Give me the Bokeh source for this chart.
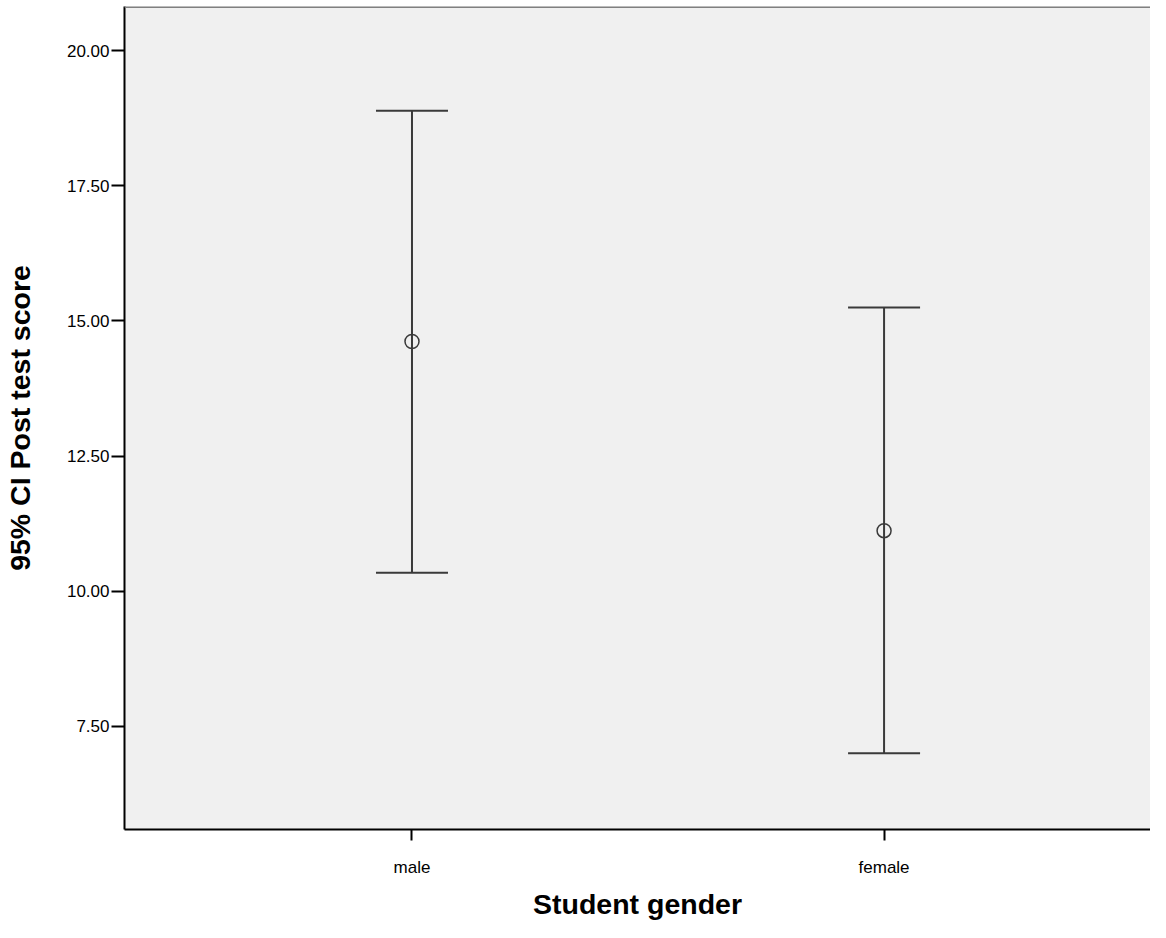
from bokeh.plotting import figure
from bokeh.models import ColumnDataSource, Whisker, TeeHead, FixedTicker, Range1d, Span
from bokeh.embed import file_html
from bokeh.resources import INLINE

# data
categories = ["male", "female"]
positions = [1, 2]
means = [14.62, 11.12]
upper = [18.89, 15.25]
lower = [10.34, 7.00]
y_ticks = [7.5, 10.0, 12.5, 15.0, 17.5, 20.0]

LINE = "#3a3a3a"
FONT = "Liberation Sans"
Y_TOP = 20.817
Y_BOTTOM = 5.591

src = ColumnDataSource(dict(x=positions, mean=means, upper=upper, lower=lower))

p = figure(width=1150, height=922, output_backend="svg", toolbar_location=None,
           x_range=Range1d(0.391, 2.5644), y_range=Range1d(Y_BOTTOM, Y_TOP),
           min_border_left=115, min_border_top=6, min_border_right=0, min_border_bottom=60)

p.background_fill_color = "#f0f0f0"
p.border_fill_color = "white"
p.outline_line_color = None
p.xgrid.visible = False
p.ygrid.visible = False

# axes
p.xaxis.ticker = FixedTicker(ticks=positions)
p.xaxis.major_label_overrides = {pos: c for pos, c in zip(positions, categories)}
p.yaxis.ticker = FixedTicker(ticks=y_ticks)
p.yaxis.major_label_overrides = {t: f"{t:.2f}" for t in y_ticks}

for ax in (p.xaxis[0], p.yaxis[0]):
    ax.axis_line_color = "black"
    ax.axis_line_width = 2
    ax.major_tick_line_color = "black"
    ax.major_tick_line_width = 2
    ax.major_tick_in = 0
    ax.minor_tick_line_color = None
    ax.major_label_text_font = FONT
    ax.major_label_text_font_size = "17px"
    ax.major_label_text_color = "black"
    ax.axis_label_text_font = FONT
    ax.axis_label_text_font_style = "bold"
    ax.axis_label_text_font_size = "28.5px"
    ax.axis_label_text_color = "black"

p.xaxis.major_tick_out = 11
p.xaxis.major_label_standoff = 17
p.xaxis.axis_label = "Student gender"
p.xaxis.axis_label_standoff = 8

p.yaxis.major_tick_out = 13
p.yaxis.major_label_standoff = 2
p.yaxis.axis_label = "95% CI Post test score"
p.yaxis.axis_label_standoff = 28

# top border
p.add_layout(Span(location=Y_TOP, dimension="width", line_color="#808080", line_width=3))

# error bars
w = Whisker(base="x", upper="upper", lower="lower", source=src,
            line_color=LINE, line_width=2,
            upper_head=TeeHead(size=72, line_color=LINE, line_width=2),
            lower_head=TeeHead(size=72, line_color=LINE, line_width=2))
p.add_layout(w)

# means
p.scatter("x", "mean", source=src, size=14, marker="circle",
          fill_color=None, line_color=LINE, line_width=1.5)

open("out.html", "w").write(file_html(p, INLINE))
